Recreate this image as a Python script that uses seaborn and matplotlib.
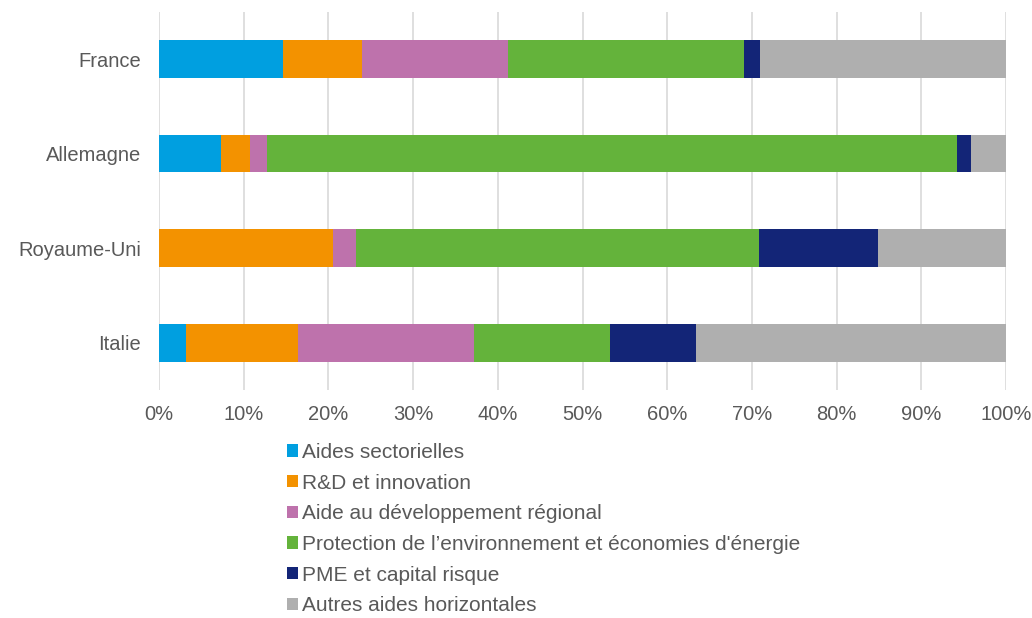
import matplotlib
matplotlib.use("Agg")
import matplotlib.pyplot as plt
import seaborn as sns
import pandas as pd
import numpy as np
from matplotlib.patches import Patch
from matplotlib.ticker import PercentFormatter

countries = ["France", "Allemagne", "Royaume-Uni", "Italie"]
series = ["Aides sectorielles", "R&D et innovation", "Aide au développement régional",
          "Protection de l\u2019environnement et économies d'énergie",
          "PME et capital risque", "Autres aides horizontales"]
aides_sectorielles = [14.7, 7.3, 0.0, 3.15]
rd_innovation = [9.3, 3.45, 20.6, 13.25]
dev_regional = [17.25, 1.95, 2.7, 20.8]
environnement = [27.75, 81.5, 47.5, 16.0]
pme = [2.0, 1.7, 14.05, 10.2]
autres = [29.0, 4.1, 15.15, 36.6]
colors = ["#009FE0", "#F39200", "#BE72AC", "#64B33B", "#132577", "#AFAFAF"]

values = [aides_sectorielles, rd_innovation, dev_regional, environnement, pme, autres]
df = pd.DataFrame(dict(zip(series, values)), index=countries)
df = df.div(df.sum(axis=1), axis=0) * 100
cum = df.cumsum(axis=1)

sns.set_theme(style="white")
plt.rcParams["font.family"] = ["Liberation Sans", "DejaVu Sans"]

fig = plt.figure(figsize=(10.32, 6.18), dpi=100)
ax = fig.add_axes([0.154, 0.369, 0.821, 0.612])

for s, c in reversed(list(zip(series, colors))):
    sns.barplot(x=cum[s].values, y=countries, orient="h", color=c, saturation=1,
                width=0.4, ax=ax, zorder=3, linewidth=0, edgecolor="none")

ax.set_xlim(0, 100)
ax.set_ylim(3.5, -0.5)
ax.set_xticks(np.arange(0, 101, 10))
ax.xaxis.set_major_formatter(PercentFormatter(decimals=0))
ax.grid(axis="x", color="#D9D9D9", linewidth=1.2, zorder=0)
ax.set_axisbelow(True)
for sp in ax.spines.values():
    sp.set_visible(False)
ax.tick_params(axis="both", length=0, labelsize=14.5, colors="#595959")
ax.tick_params(axis="y", pad=13)
ax.tick_params(axis="x", pad=11)
ax.set_xlabel("")
ax.set_ylabel("")

handles = [Patch(facecolor=c, edgecolor="none", label=s) for s, c in zip(series, colors)]
fig.legend(handles=handles, loc="upper left", bbox_to_anchor=(287 / 1032, 1 - 443 / 618),
           frameon=False, fontsize=15, labelcolor="#595959", handlelength=0.53,
           handleheight=0.53, handletextpad=0.2, labelspacing=0.56, borderaxespad=0,
           borderpad=0)

fig.savefig("out.png", dpi=100)
